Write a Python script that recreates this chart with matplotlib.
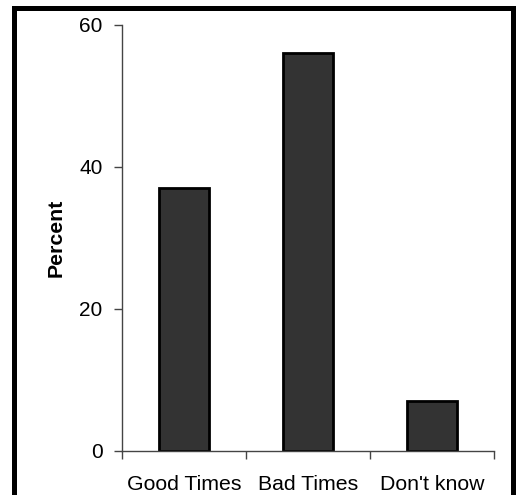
import matplotlib.pyplot as plt
from matplotlib.patches import Rectangle

plt.rcParams['font.family'] = ['Liberation Sans', 'DejaVu Sans']

categories = ["Good Times", "Bad Times", "Don't know"]
percent = [37, 56, 7]
yticks = [0, 20, 40, 60]

fig = plt.figure(figsize=(5.17, 4.95), dpi=100)
ax = fig.add_axes([122 / 517, 44 / 495, 372 / 517, 426 / 495])

x = range(len(categories))
ax.bar(x, percent, width=0.4, color='#333333', edgecolor='black', linewidth=2)

ax.set_xlim(-0.5, len(categories) - 0.5)
ax.set_ylim(0, 60)
ax.set_yticks(yticks)
ax.set_xticks(list(x))
ax.set_xticklabels(categories)
ax.set_xticks([i - 0.5 for i in range(len(categories) + 1)], minor=True)

ax.tick_params(axis='x', which='major', length=0, pad=17, labelsize=15.3)
ax.tick_params(axis='x', which='minor', length=6, width=1, color='#444444', direction='out')
ax.tick_params(axis='y', length=6, width=1, color='#444444', direction='out', pad=8, labelsize=15)

for side in ['top', 'right']:
    ax.spines[side].set_visible(False)
for side in ['left', 'bottom']:
    ax.spines[side].set_color('#444444')
    ax.spines[side].set_linewidth(1)

ax.set_ylabel('Percent', fontsize=15.3, fontweight='bold', labelpad=10)

# heavy black frame around the whole chart
fig.patches.append(Rectangle((14 / 517, -0.05), 499 / 517, 1.05 - 7.5 / 495,
                             transform=fig.transFigure, fill=False,
                             edgecolor='black', linewidth=3.6))

fig.savefig('out.png', dpi=100)
